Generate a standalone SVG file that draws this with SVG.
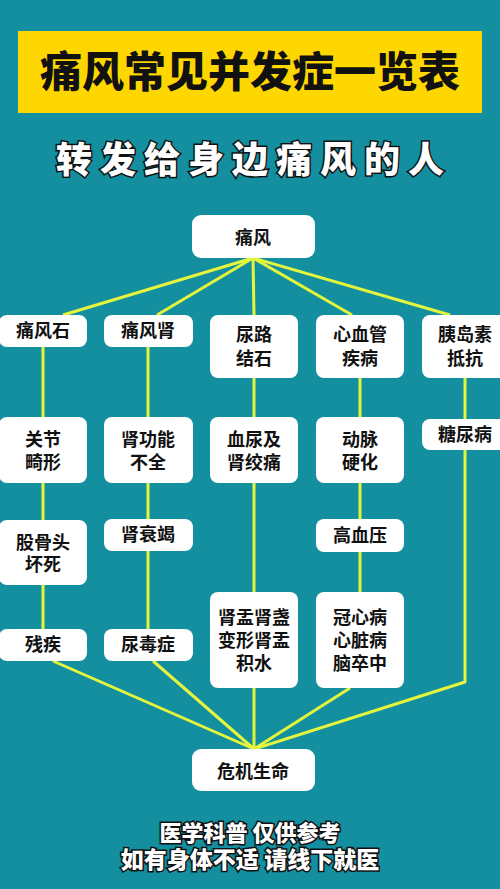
<svg xmlns="http://www.w3.org/2000/svg" width="500" height="889" viewBox="0 0 500 889">
<style>
.bg{fill:#138fa0}
.node rect{fill:#ffffff}
.node text{font-family:"Noto Sans CJK SC","Noto Sans",sans-serif;font-weight:700;font-size:18px;fill:#111;text-anchor:middle}
.conn{stroke:#e4f53c;stroke-width:3;fill:none;stroke-linejoin:round}
.outline{font-family:"Noto Sans CJK SC","Noto Sans",sans-serif;font-weight:900;fill:#fff;stroke:#111;stroke-width:3;paint-order:stroke;text-anchor:middle}
</style>
<rect class="bg" x="0" y="0" width="500" height="889"/>
<g id="title">
<rect x="18" y="31" width="464" height="82" fill="#ffd700"/>
<text x="250" y="87" font-family="Noto Sans CJK SC, sans-serif" font-weight="900" font-size="42" fill="#111" text-anchor="middle">痛风常见并发症一览表</text>
</g>
<g id="subtitle">
<text class="outline" x="254" y="173" font-size="36" letter-spacing="8" stroke-width="4">转发给身边痛风的人</text>
</g>
<g id="connectors">
<polyline class="conn" points="63,315 253,258"/>
<polyline class="conn" points="157,315 253,258"/>
<polyline class="conn" points="254,315 253,258"/>
<polyline class="conn" points="352,315 253,258"/>
<polyline class="conn" points="450,315 253,258"/>
<line class="conn" x1="43" y1="347" x2="43" y2="629"/>
<line class="conn" x1="148" y1="347" x2="148" y2="629"/>
<line class="conn" x1="254" y1="378" x2="254" y2="749"/>
<line class="conn" x1="360" y1="378" x2="360" y2="592"/>
<polyline class="conn" points="465,378 465,682 254,749"/>
<polyline class="conn" points="53,661 254,749"/>
<polyline class="conn" points="153,661 254,749"/>
<polyline class="conn" points="350,688 254,749"/>
</g>
<g id="n-tongfeng" class="node"><rect x="192" y="215" width="123" height="43" rx="9"/><text x="253" y="244" font-size="20">痛风</text></g>
<g id="n-tongfengshi" class="node"><rect x="-1" y="315" width="88" height="32" rx="8"/><text x="43" y="337">痛风石</text></g>
<g id="n-tongfengshen" class="node"><rect x="104" y="315" width="89" height="32" rx="8"/><text x="148" y="337">痛风肾</text></g>
<g id="n-niaolu" class="node"><rect x="210" y="315" width="88" height="63" rx="8"/><text x="254" y="341">尿路<tspan x="254" dy="24">结石</tspan></text></g>
<g id="n-xinxueguan" class="node"><rect x="316" y="315" width="88" height="63" rx="8"/><text x="360" y="341">心血管<tspan x="360" dy="24">疾病</tspan></text></g>
<g id="n-yidaosu" class="node"><rect x="422" y="315" width="86" height="63" rx="8"/><text x="465" y="341">胰岛素<tspan x="465" dy="24">抵抗</tspan></text></g>
<g id="n-guanjie" class="node"><rect x="-1" y="417" width="88" height="66" rx="8"/><text x="43" y="446">关节<tspan x="43" dy="23">畸形</tspan></text></g>
<g id="n-shengongneng" class="node"><rect x="104" y="417" width="89" height="66" rx="8"/><text x="148" y="446">肾功能<tspan x="148" dy="23">不全</tspan></text></g>
<g id="n-xueniao" class="node"><rect x="210" y="417" width="88" height="66" rx="8"/><text x="254" y="446">血尿及<tspan x="254" dy="23">肾绞痛</tspan></text></g>
<g id="n-dongmai" class="node"><rect x="316" y="417" width="88" height="66" rx="8"/><text x="360" y="446">动脉<tspan x="360" dy="23">硬化</tspan></text></g>
<g id="n-tangniao" class="node"><rect x="422" y="419" width="86" height="31" rx="8"/><text x="465" y="441">糖尿病</text></g>
<g id="n-gugutou" class="node"><rect x="-1" y="520" width="88" height="65" rx="8"/><text x="43" y="549">股骨头<tspan x="43" dy="22">坏死</tspan></text></g>
<g id="n-shenshuaijie" class="node"><rect x="104" y="519" width="89" height="32" rx="8"/><text x="148" y="541">肾衰竭</text></g>
<g id="n-gaoxueya" class="node"><rect x="316" y="519" width="88" height="33" rx="8"/><text x="360" y="542">高血压</text></g>
<g id="n-canji" class="node"><rect x="-1" y="629" width="88" height="32" rx="8"/><text x="43" y="651">残疾</text></g>
<g id="n-niaoduzheng" class="node"><rect x="104" y="629" width="89" height="32" rx="8"/><text x="148" y="651">尿毒症</text></g>
<g id="n-shenyu" class="node"><rect x="210" y="592" width="88" height="96" rx="8"/><text x="254" y="624">肾盂肾盏<tspan x="254" dy="23">变形肾盂</tspan><tspan x="254" dy="23">积水</tspan></text></g>
<g id="n-guanxin" class="node"><rect x="316" y="592" width="88" height="96" rx="8"/><text x="360" y="624">冠心病<tspan x="360" dy="23">心脏病</tspan><tspan x="360" dy="23">脑卒中</tspan></text></g>
<g id="n-weiji" class="node"><rect x="192" y="749" width="123" height="42" rx="9"/><text x="253" y="778" font-size="22">危机生命</text></g>
<g id="footer">
<text class="outline" x="250" y="841" font-size="22">医学科普 仅供参考<tspan x="250" dy="27" font-size="23">如有身体不适 请线下就医</tspan></text>
</g>
</svg>
